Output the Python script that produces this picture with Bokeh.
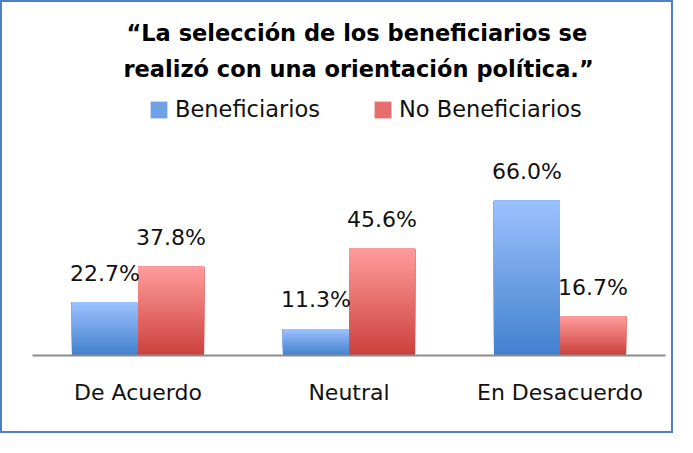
from bokeh.plotting import figure
from bokeh.models import ColumnDataSource, Legend, LegendItem, FactorRange, Title
from bokeh.transform import dodge
from bokeh.core.properties import value
from bokeh.embed import file_html
from bokeh.resources import INLINE

# ---- data ----
categories = ["De Acuerdo", "Neutral", "En Desacuerdo"]
beneficiarios = [22.7, 11.3, 66.0]
no_beneficiarios = [37.8, 45.6, 16.7]
series_names = ["Beneficiarios", "No Beneficiarios"]
title_lines = ["\u201cLa selecci\u00f3n de los beneficiarios se",
               "realiz\u00f3 con una orientaci\u00f3n pol\u00edtica.\u201d"]

# ---- styling ----
BLUE_DARK, BLUE_LIGHT = (66, 128, 205), (156, 193, 255)
RED_DARK, RED_LIGHT = (204, 64, 60), (255, 156, 156)
N_BANDS = 48
BAR_W = 0.313
OFF = BAR_W / 2
FONT = "DejaVu Sans"


def lerp(c0, c1, t):
    return "#%02x%02x%02x" % tuple(int(round(a + (b - a) * t)) for a, b in zip(c0, c1))


def band_source(values, dark, light):
    # each band starts higher and reaches the bar top; later bands cover earlier ones -> smooth gradient
    xs, bottoms, tops, colors = [], [], [], []
    for k in range(N_BANDS):
        for cat, v in zip(categories, values):
            xs.append(cat)
            bottoms.append(v * k / N_BANDS)
            tops.append(v)
            colors.append(lerp(dark, light, (k + 0.5) / N_BANDS))
    return ColumnDataSource(dict(x=xs, bottom=bottoms, top=tops, color=colors))


p = figure(
    x_range=FactorRange(factors=categories, range_padding=0),
    y_range=(0, 116.4),
    width=673, height=433,
    output_backend="svg", toolbar_location=None,
    y_axis_location=None,
    min_border_left=30, min_border_right=10, min_border_top=80, min_border_bottom=80,
    outline_line_color=None,
    styles={"border": "2px solid #4F81BD"},
)
p.xgrid.visible = False
p.ygrid.visible = False

src_b = band_source(beneficiarios, BLUE_DARK, BLUE_LIGHT)
src_n = band_source(no_beneficiarios, RED_DARK, RED_LIGHT)

r_b = p.vbar(x=dodge("x", -OFF, range=p.x_range), bottom="bottom", top="top", width=BAR_W,
             fill_color="color", line_color=None, source=src_b)
r_n = p.vbar(x=dodge("x", OFF, range=p.x_range), bottom="bottom", top="top", width=BAR_W,
             fill_color="color", line_color=None, source=src_n)

lab_b = ColumnDataSource(dict(x=categories, y=beneficiarios, label=["%.1f%%" % v for v in beneficiarios]))
lab_n = ColumnDataSource(dict(x=categories, y=no_beneficiarios, label=["%.1f%%" % v for v in no_beneficiarios]))
for src, off in ((lab_b, -OFF), (lab_n, OFF)):
    p.text(x=dodge("x", off, range=p.x_range), y="y", text="label", source=src,
           text_align="center", text_baseline="middle", y_offset=-29,
           text_font=value(FONT), text_font_size="22px", text_color="#111111")

# axis
ax = p.xaxis[0]
ax.axis_line_color = "#8c8c8c"
ax.axis_line_width = 2
ax.major_tick_line_color = None
ax.minor_tick_line_color = None
ax.major_label_text_font = FONT
ax.major_label_text_font_size = "22px"
ax.major_label_text_color = "#111111"
ax.major_label_standoff = 18

# title: two lines, each placed separately so they can be centred like the reference
title_style = dict(text_font=FONT, text_font_size="22.5px", text_font_style="bold", text_color="#000000")
p.title = Title(text=title_lines[0], align="left", offset=94, standoff=16, **title_style)
p.add_layout(Title(text=title_lines[1], align="left", offset=91, standoff=1, **title_style), "above")

# legend
mid = N_BANDS // 2 * len(categories)
legend = Legend(
    items=[LegendItem(label=series_names[0], renderers=[r_b], index=mid),
           LegendItem(label=series_names[1], renderers=[r_n], index=mid)],
    orientation="horizontal", location=(116, 233),
    border_line_color=None, background_fill_alpha=0,
    padding=0, margin=0, spacing=52,
    glyph_width=21, glyph_height=21, label_standoff=6, label_height=21,
    label_text_font=FONT, label_text_font_size="22.5px", label_text_color="#111111",
)
p.add_layout(legend)

open("out.html", "w").write(file_html(p, INLINE))
